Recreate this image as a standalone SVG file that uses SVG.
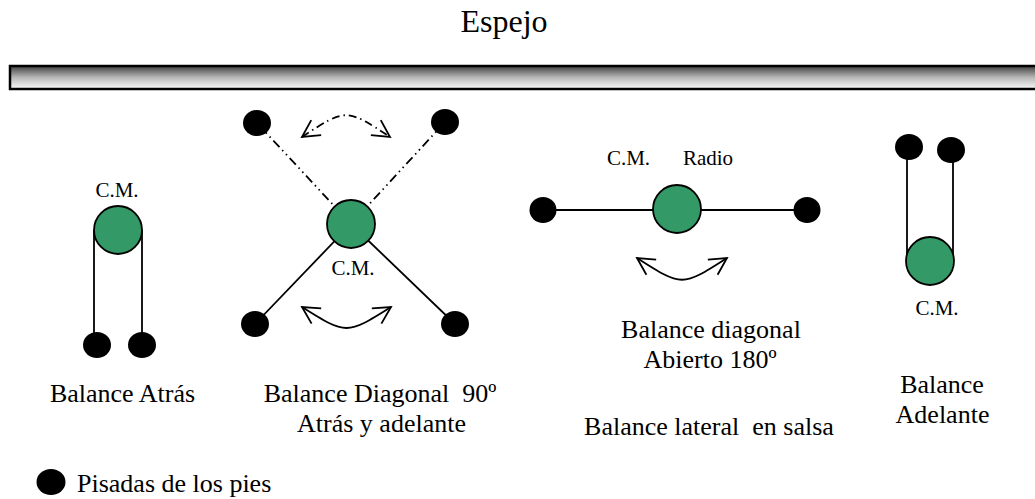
<svg xmlns="http://www.w3.org/2000/svg" width="1035" height="499" viewBox="0 0 1035 499">
<style>
text{font-family:"Liberation Serif","Times New Roman",serif;fill:#000;white-space:pre}
.title{font-size:32px;text-anchor:middle}
.lbl{font-size:21px;text-anchor:middle}
.cap{font-size:26px;text-anchor:middle}
.dot{fill:#000}
.cm{fill:#339966;stroke:#000;stroke-width:1.8}
.line{stroke:#000;stroke-width:1.8;fill:none}
.ddot{stroke:#000;stroke-width:1.8;fill:none;stroke-dasharray:9 4 1.5 4 1.5 4}
.arc{stroke:#000;stroke-width:1.8;fill:none;marker-start:url(#ah);marker-end:url(#ah)}
.dash{stroke-dasharray:8 4 1.5 4}
</style>
<defs>
<linearGradient id="barg" x1="0" y1="0" x2="0" y2="1">
<stop offset="0" stop-color="#404040"/>
<stop offset="0.5" stop-color="#b8b8b8"/>
<stop offset="1" stop-color="#fafafa"/>
</linearGradient>
<marker id="ah" markerUnits="userSpaceOnUse" orient="auto-start-reverse" refX="0" refY="0" markerWidth="40" markerHeight="40" overflow="visible">
<path d="M-17,-9 L0,0 L-17,9" fill="none" stroke="#000" stroke-width="1.8" stroke-dasharray="none"/>
</marker>
</defs>
<rect width="1035" height="499" fill="#fff"/>
<text class="title" x="504" y="32">Espejo</text>
<rect id="espejo-bar" x="10" y="66" width="1040" height="23" fill="url(#barg)" stroke="#000" stroke-width="2.5"/>

<g id="connectors">
<line class="line" x1="94" y1="230" x2="94" y2="335"/>
<line class="line" x1="142" y1="230" x2="142" y2="335"/>
<line class="ddot" x1="257" y1="123" x2="351" y2="224"/>
<line class="ddot" x1="445" y1="122" x2="351" y2="224"/>
<line class="line" x1="351" y1="224" x2="255" y2="324"/>
<line class="line" x1="351" y1="224" x2="455" y2="324"/>
<path class="arc dash" d="M302,137 C346,108 346,108 390,137"/>
<path class="arc" d="M302,307 C346.5,335 346.5,335 391,307"/>
<line class="line" x1="543" y1="210" x2="807" y2="210"/>
<path class="arc" d="M637,258 C682,287 682,287 727,258"/>
<line class="line" x1="907" y1="150" x2="907" y2="261"/>
<line class="line" x1="953" y1="150" x2="953" y2="261"/>
</g>

<g id="balance-atras">
<circle class="cm" cx="118" cy="230" r="24"/>
<ellipse class="dot" cx="97" cy="345" rx="14" ry="13"/>
<ellipse class="dot" cx="142" cy="345" rx="14" ry="13"/>
<text class="lbl" x="117" y="197">C.M.</text>
<text class="cap" x="122.5" y="402">Balance Atrás</text>
</g>

<g id="balance-diagonal-90">
<ellipse class="dot" cx="257" cy="123" rx="14" ry="13"/>
<ellipse class="dot" cx="445" cy="122" rx="14" ry="13"/>
<ellipse class="dot" cx="255" cy="324" rx="14" ry="13"/>
<ellipse class="dot" cx="455" cy="324" rx="14" ry="13"/>
<circle class="cm" cx="351" cy="224" r="24"/>
<text class="lbl" x="353" y="275">C.M.</text>
<text class="cap" x="380" y="402">Balance Diagonal  90º</text>
<text class="cap" x="381.5" y="432">Atrás y adelante</text>
</g>

<g id="balance-lateral">
<ellipse class="dot" cx="543" cy="210" rx="13.5" ry="13"/>
<ellipse class="dot" cx="807" cy="210" rx="13.5" ry="13"/>
<circle class="cm" cx="677" cy="209" r="24"/>
<text class="lbl" x="628.5" y="165">C.M.</text>
<text class="lbl" x="708" y="165">Radio</text>
<text class="cap" x="711" y="338">Balance diagonal</text>
<text class="cap" x="710" y="368">Abierto 180º</text>
<text class="cap" x="709" y="435">Balance lateral  en salsa</text>
</g>

<g id="balance-adelante">
<ellipse class="dot" cx="909" cy="147" rx="14" ry="13"/>
<ellipse class="dot" cx="951" cy="150" rx="14" ry="13"/>
<circle class="cm" cx="930" cy="261" r="24"/>
<text class="lbl" x="937" y="315">C.M.</text>
<text class="cap" x="942" y="393">Balance</text>
<text class="cap" x="942.5" y="423">Adelante</text>
</g>

<g id="legend">
<ellipse class="dot" cx="51" cy="482" rx="14.5" ry="13"/>
<text class="cap" x="77" y="492" style="text-anchor:start">Pisadas de los pies</text>
</g>
</svg>
